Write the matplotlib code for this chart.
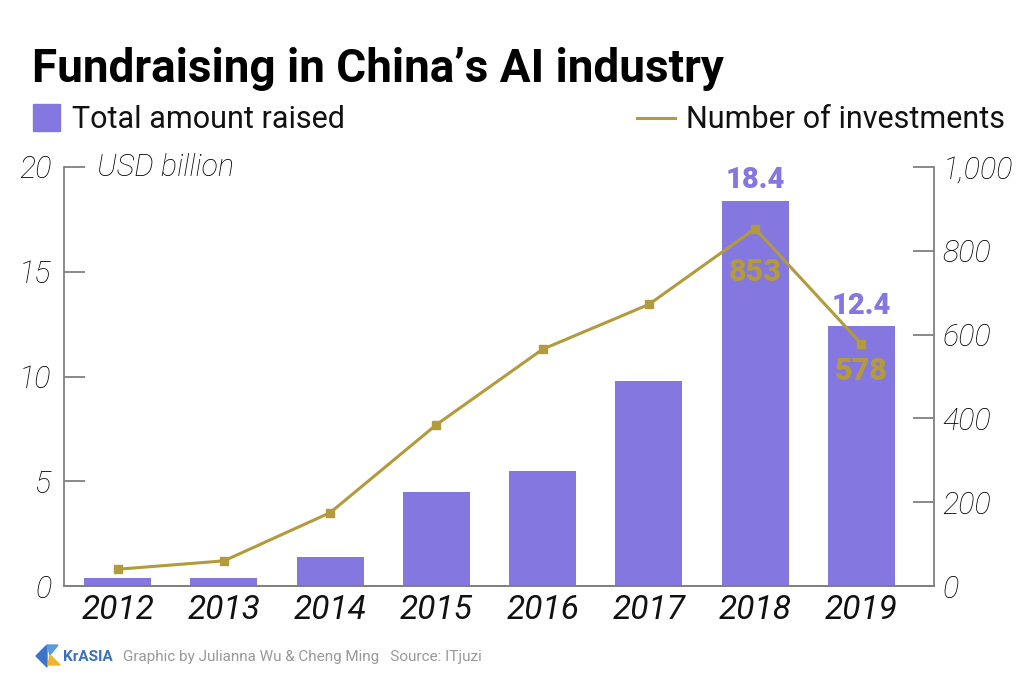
import matplotlib
matplotlib.use("Agg")
import matplotlib.pyplot as plt
from matplotlib import font_manager
from matplotlib.patches import Polygon, Rectangle
from matplotlib.lines import Line2D
from matplotlib.ticker import FuncFormatter

years = ["2012", "2013", "2014", "2015", "2016", "2017", "2018", "2019"]
amount_raised = [0.4, 0.4, 1.4, 4.5, 5.5, 9.8, 18.4, 12.4]   # USD billion
num_investments = [40, 60, 175, 385, 565, 672, 853, 578]
left_ticks = [0, 5, 10, 15, 20]
right_ticks = [0, 200, 400, 600, 800, 1000]

names = {f.name for f in font_manager.fontManager.ttflist}
ROBOTO = "Roboto" if "Roboto" in names else "DejaVu Sans"

PURPLE = "#8577e0"
GOLD = "#b39a3c"
AXIS = "#808080"

fig = plt.figure(figsize=(10.24, 6.81), dpi=100)
ax = fig.add_axes([64/1024, 1-586/681, (934-64)/1024, (586-167)/681])
ax2 = ax.twinx()

x = list(range(len(years)))
ax.bar(x, amount_raised, width=0.63, color=PURPLE, zorder=2)
ax2.plot(x, num_investments, color=GOLD, lw=2.2, marker="s", ms=6, zorder=3)

ax.set_xlim(-0.505, 7.684)
ax.set_ylim(0, 20)
ax2.set_ylim(0, 1000)

for a in (ax, ax2):
    a.spines["top"].set_visible(False)
    for s in a.spines.values():
        s.set_color(AXIS)
        s.set_linewidth(1.3)
ax.spines["right"].set_visible(False)
ax2.spines["left"].set_visible(False)

ax.set_yticks(left_ticks)
ax2.set_yticks(right_ticks)
ax2.yaxis.set_major_formatter(FuncFormatter(lambda v, p: f"{int(v):,}"))
ax.tick_params(axis="y", direction="in", length=15, width=1.3, color=AXIS, pad=9,
               labelsize=22, labelcolor="#000000")
ax2.tick_params(axis="y", direction="in", length=15, width=1.3, color=AXIS, pad=6,
                labelsize=22, labelcolor="#000000")
ax.set_xticks(x)
ax.set_xticklabels(years)
ax.tick_params(axis="x", length=0, pad=6, labelsize=24, labelcolor="#111111")
for lab in ax.get_yticklabels() + ax2.get_yticklabels():
    lab.set_fontfamily(ROBOTO)
    lab.set_fontstyle("italic")
    lab.set_fontweight("light")
for lab in ax.get_xticklabels():
    lab.set_fontfamily(ROBOTO)
    lab.set_fontstyle("italic")
    lab.set_fontweight("normal")

ax.text((97 - 64) / 870, 1.0, "USD billion", transform=ax.transAxes,
        ha="left", va="center", fontsize=22, fontstyle="italic", fontweight="light",
        family=ROBOTO, color="#000000")

# value labels
ax.text(6, amount_raised[6] + 0.3, f"{amount_raised[6]}", ha="center", va="bottom",
        fontsize=21, fontweight="heavy", family=ROBOTO, color=PURPLE)
ax.text(7, amount_raised[7] + 0.3, f"{amount_raised[7]}", ha="center", va="bottom",
        fontsize=21, fontweight="heavy", family=ROBOTO, color=PURPLE)
ax2.text(6, num_investments[6] - 68, f"{num_investments[6]}", ha="center", va="top",
         fontsize=22, fontweight="heavy", family=ROBOTO, color=GOLD, zorder=4)
ax2.text(7, num_investments[7] - 28, f"{num_investments[7]}", ha="center", va="top",
         fontsize=22, fontweight="heavy", family=ROBOTO, color=GOLD, zorder=4)

# title
fig.text(32/1024, 1-82/681, "Fundraising in China’s AI industry", ha="left", va="baseline",
         fontsize=33, fontweight="bold", family=ROBOTO, color="black")

# legend
fig.patches.append(Rectangle((33/1024, 1-131/681), 27/1024, 27/681,
                             transform=fig.transFigure, color=PURPLE))
fig.text(72/1024, 1-119/681, "Total amount raised", ha="left", va="center",
         fontsize=22, family=ROBOTO, color="#111111")
fig.lines.append(Line2D([637/1024, 675/1024], [1-118/681, 1-118/681],
                        transform=fig.transFigure, color=GOLD, lw=2.2))
fig.text(1005/1024, 1-119/681, "Number of investments", ha="right", va="center",
         fontsize=22, family=ROBOTO, color="#111111")

# footer logo + text
fig.patches.append(Polygon([(36/1024, 1-656/681), (47/1024, 1-645/681), (47/1024, 1-667/681)],
                           closed=True, transform=fig.transFigure, color="#3b74c9"))
fig.patches.append(Polygon([(47/1024, 1-645/681), (58/1024, 1-645/681), (50/1024, 1-655/681)],
                           closed=True, transform=fig.transFigure, color="#5a9be0"))
fig.patches.append(Polygon([(50/1024, 1-655/681), (60/1024, 1-665/681), (48/1024, 1-665/681)],
                           closed=True, transform=fig.transFigure, color="#f0b429"))
fig.text(63/1024, 1-657/681, "KrASIA", ha="left", va="center", fontsize=11,
         fontweight="bold", family=ROBOTO, color="#3b6fc4")
fig.text(123/1024, 1-657/681, "Graphic by Julianna Wu & Cheng Ming   Source: ITjuzi",
         ha="left", va="center", fontsize=11, family=ROBOTO, color="#999999")

fig.savefig("out.png", dpi=100)
